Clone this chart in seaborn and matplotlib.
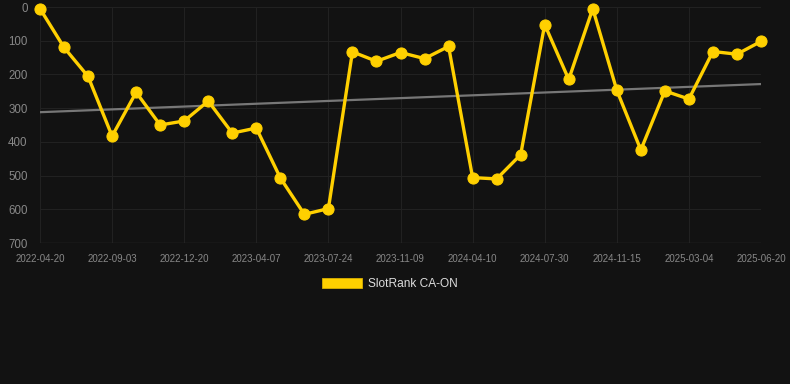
import numpy as np
import pandas as pd
import matplotlib
matplotlib.use('Agg')
import matplotlib.pyplot as plt
from matplotlib.patches import Patch
import seaborn as sns

# Posición de SlotRank CA-ON en cada fecha (31 mediciones, eje invertido)
posicion = [5, 120, 206, 383, 253, 350, 338, 279, 374, 359,
            507, 615, 598, 133, 161, 135, 153, 117, 506, 510,
            438, 52, 215, 5, 247, 424, 249, 273, 132, 140, 102]

# Etiquetas del eje X (una cada 3 puntos)
etiquetas_x = ['2022-04-20', '2022-09-03', '2022-12-20', '2023-04-07',
               '2023-07-24', '2023-11-09', '2024-04-10', '2024-07-30',
               '2024-11-15', '2025-03-04', '2025-06-20']
ticks_y = [0, 100, 200, 300, 400, 500, 600, 700]

df = pd.DataFrame({'idx': np.arange(len(posicion)), 'rank': posicion})

fondo = '#121212'
amarillo = '#FFD000'

sns.set_style('dark')
plt.rcParams['font.family'] = ['Liberation Sans', 'DejaVu Sans']

fig = plt.figure(figsize=(7.9, 3.84), dpi=100, facecolor=fondo)
ax = fig.add_axes([40 / 790, 1 - 243 / 384, 721 / 790, 236 / 384])
ax.set_facecolor(fondo)

# Línea de tendencia
sns.regplot(data=df, x='idx', y='rank', scatter=False, ci=None, ax=ax,
            line_kws={'color': '#777777', 'lw': 1.6, 'zorder': 2})

sns.lineplot(data=df, x='idx', y='rank', ax=ax, color=amarillo, lw=2.4,
             marker='o', markersize=8, markeredgecolor=amarillo,
             zorder=3, clip_on=False)

ax.set_xlim(0, len(posicion) - 1)
ax.set_ylim(700, 0)
ax.set_xticks(np.arange(0, len(posicion), 3))
ax.set_xticklabels(etiquetas_x)
ax.set_yticks(ticks_y)
ax.set_xlabel('')
ax.set_ylabel('')

ax.grid(True, color='#212121', lw=0.8)
for s in ax.spines.values():
    s.set_visible(False)
ax.axhline(700, color='#2c2c2c', lw=1, zorder=1)

ax.tick_params(axis='x', colors='#222222', length=5, width=0.8,
               labelcolor='#888888', labelsize=7, pad=3)
ax.tick_params(axis='y', length=0, labelcolor='#888888', labelsize=8.3, pad=9)

fig.legend(handles=[Patch(facecolor=amarillo, edgecolor='#d9b000', lw=0.6)],
           labels=['SlotRank CA-ON'], loc='center',
           bbox_to_anchor=(390 / 790, 1 - 284 / 384), frameon=False,
           fontsize=8.6, labelcolor='#dddddd', handlelength=3.4,
           handleheight=1.0, handletextpad=0.5)

plt.savefig('out.png', dpi=100, facecolor=fondo)
plt.close()
